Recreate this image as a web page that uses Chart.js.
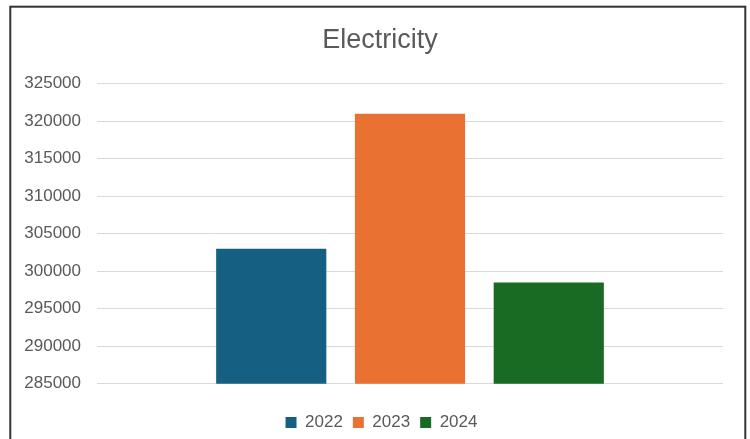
<!DOCTYPE html>
<html>
<head>
<meta charset="utf-8">
<script src="https://cdn.jsdelivr.net/npm/chart.js@4"></script>
<style>
  body { margin: 0; background: #fff; }
  canvas { display: block; }
</style>
</head>
<body>
<canvas id="bar-chart" width="750" height="439"></canvas>
<script>
// data
const categories = [''];
const years = ['2022', '2023', '2024'];
const usage = [303000, 321000, 298500];
const colors = ['#156082', '#E97132', '#196B24'];
const yMin = 285000;
const yMax = 325000;
const yStep = 5000;

// grey frame round the chart, like the office export
const framePlugin = {
  id: 'frame',
  beforeDraw(chart) {
    const ctx = chart.ctx;
    ctx.save();
    ctx.fillStyle = '#fff';
    ctx.fillRect(0, 0, chart.width, chart.height);
    ctx.strokeStyle = '#333';
    ctx.lineWidth = 2;
    ctx.strokeRect(10.3, 6.7, 735, 600);
    ctx.restore();
  },
  afterLayout(chart) {
    // title and legend sit a bit right of the canvas centre in the original
    chart.titleBlock.left += 13;
    chart.legend.left += 8;
    chart.legend.right += 8;
    chart.legend.top -= 4;
    chart.legend.bottom -= 4;
  },
};

const datasets = years.map(function (year, i) {
  return {
    label: year,
    data: [usage[i]],
    backgroundColor: colors[i],
    borderWidth: 0,
    barPercentage: 0.794,
    categoryPercentage: 0.665,
  };
});

Chart.defaults.font.family = '"Liberation Sans", Arial, sans-serif';
Chart.defaults.color = '#595959';

const barConfig = {
  type: 'bar',
  data: {
    labels: categories,
    datasets: datasets,
  },
  options: {
    responsive: false,
    animation: false,
    devicePixelRatio: 1,
    layout: {
      padding: { left: 24, right: 27, top: 0, bottom: -6 },
    },
    plugins: {
      title: {
        display: true,
        text: 'Electricity',
        color: '#595959',
        font: { size: 27, weight: 'normal' },
        padding: { top: 24, bottom: 27.4 },
      },
      legend: {
        position: 'bottom',
        labels: {
          boxWidth: 11,
          boxHeight: 11,
          padding: 10,
          color: '#595959',
          font: { size: 17 },
        },
      },
      tooltip: { enabled: false },
    },
    scales: {
      x: {
        grid: { display: false },
        border: { display: false },
        ticks: { display: false },
        title: { display: true, text: '', font: { size: 13.5 }, padding: 0 },
      },
      y: {
        min: yMin,
        max: yMax,
        border: { display: false },
        grid: { color: '#d9d9d9', lineWidth: 1, drawTicks: false },
        afterFit: function (scale) {
          scale.width = 73;
        },
        ticks: {
          stepSize: yStep,
          padding: 16,
          color: '#595959',
          font: { size: 17 },
          callback: function (value) {
            return String(value);
          },
        },
      },
    },
  },
  plugins: [framePlugin],
};

let ctx = document.getElementById('bar-chart');
const barChart = new Chart(ctx, barConfig);
</script>
</body>
</html>
